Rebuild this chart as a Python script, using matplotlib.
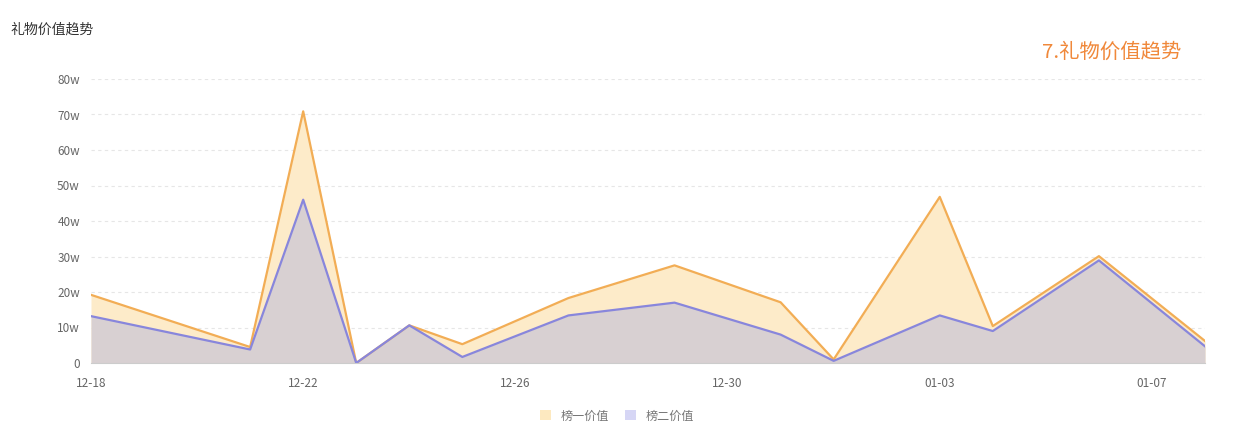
import matplotlib
matplotlib.use("Agg")
import matplotlib.pyplot as plt
import matplotlib.dates as mdates
from matplotlib.patches import Patch
import pandas as pd

plt.rcParams['font.family'] = ['Noto Sans CJK SC', 'DejaVu Sans']

dates = ["2023-12-18", "2023-12-21", "2023-12-22", "2023-12-23", "2023-12-24",
         "2023-12-25", "2023-12-27", "2023-12-29", "2023-12-31", "2024-01-01",
         "2024-01-03", "2024-01-04", "2024-01-06", "2024-01-08"]
rank1_values = [19.2, 4.5, 70.9, 0.0, 10.6, 5.3, 18.3, 27.5, 17.1, 1.0, 46.8, 10.4, 30.1, 6.2]
rank2_values = [13.2, 3.8, 46.0, 0.0, 10.6, 1.7, 13.4, 17.0, 8.0, 0.6, 13.4, 9.0, 28.9, 4.7]
series_names = ["榜一价值", "榜二价值"]
y_ticks = [0, 10, 20, 30, 40, 50, 60, 70, 80]
y_tick_labels = ["0", "10w", "20w", "30w", "40w", "50w", "60w", "70w", "80w"]
x_tick_dates = ["2023-12-18", "2023-12-22", "2023-12-26", "2023-12-30", "2024-01-03", "2024-01-07"]

x = pd.to_datetime(dates)
xt = pd.to_datetime(x_tick_dates)

fig = plt.figure(figsize=(12.44, 4.41), dpi=100)
ax = fig.add_axes([91/1244, 78/441, (1205-91)/1244, (362.5-78.5)/441])

fill1 = "#fdebc9"
fill2 = "#d8d0d2"
line1 = "#f2ad55"
line2 = "#8886dc"

ax.fill_between(x, rank1_values, 0, color=fill1, lw=0, zorder=2)
ax.fill_between(x, rank2_values, 0, color=fill2, lw=0, zorder=3)
ax.plot(x, rank1_values, color=line1, lw=1.6, zorder=4)
ax.plot(x, rank2_values, color=line2, lw=1.6, zorder=5)

ax.set_xlim(x[0], x[-1])
ax.set_ylim(0, 80)
ax.set_yticks(y_ticks)
ax.set_yticklabels(y_tick_labels)
ax.set_xticks(xt)
ax.xaxis.set_major_formatter(mdates.DateFormatter("%m-%d"))

ax.grid(axis='y', color="#e6e6e6", linestyle=(0, (3, 3)), lw=0.8, zorder=1)
for s in ["top", "right", "left"]:
    ax.spines[s].set_visible(False)
ax.spines["bottom"].set_color("#cccccc")
ax.spines["bottom"].set_zorder(6)
ax.tick_params(axis='both', length=0, colors="#666666", labelsize=8.5)
ax.tick_params(axis='y', pad=8)
ax.tick_params(axis='x', pad=10)

fig.text(10/1244, 1 - 30/441, "礼物价值趋势", fontsize=10, color="#333333", ha="left", va="center")
fig.text(1181/1244, 1 - 52/441, "7.礼物价值趋势", fontsize=14.7, color="#f0883a", ha="right", va="center")

handles = [Patch(facecolor="#fde9c0", edgecolor="none"),
           Patch(facecolor="#d6d6f5", edgecolor="none")]
leg = fig.legend(handles, series_names, loc="center", bbox_to_anchor=(617/1244, 1 - 416/441),
                 ncol=2, frameon=False, fontsize=8.7, handlelength=0.9, handleheight=0.9,
                 handletextpad=0.8, columnspacing=1.3)
for t in leg.get_texts():
    t.set_color("#777777")

fig.savefig("out.png", dpi=100)
